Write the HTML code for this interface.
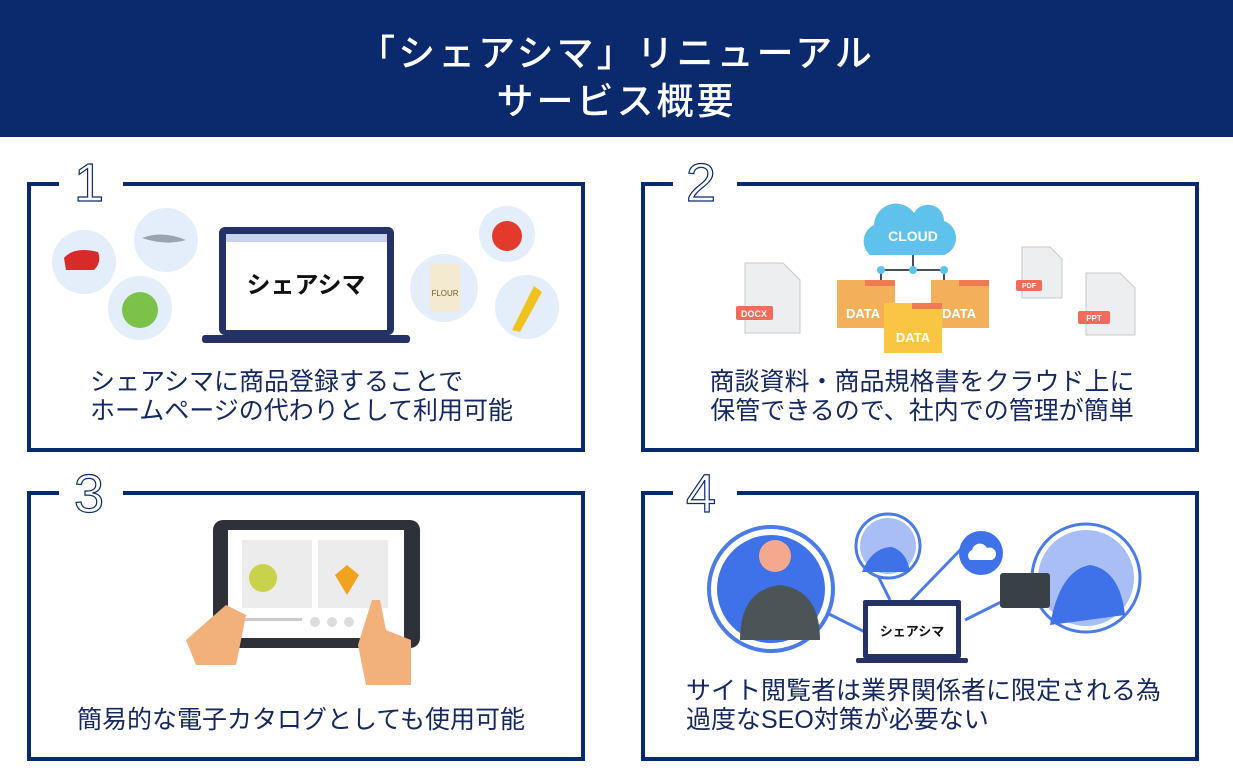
<!DOCTYPE html>
<html><head><meta charset="utf-8"><style>
*{margin:0;padding:0;box-sizing:border-box}
body{width:1233px;height:784px;background:#fff;position:relative;overflow:hidden;font-family:"Liberation Sans","Noto Sans CJK JP",sans-serif}
.hdr{position:absolute;left:0;top:0;width:1233px;height:137px;background:#0b2a6e;color:#fff;text-align:center;font-size:37px;line-height:48px;padding-top:30px;font-weight:500;letter-spacing:3px}
.box{position:absolute;border:4px solid #062a6e;width:558px;height:270px}
.gap{position:absolute;top:-6px;height:8px;background:#fff}
.num{position:absolute;font-family:"Liberation Sans",sans-serif;font-size:54px;color:#fff;-webkit-text-stroke:1.2px #0b2a6e;line-height:56px}
.t{position:absolute;color:#14275f;font-size:25px;line-height:29px;white-space:nowrap}
svg{position:absolute;left:0;top:0}
</style></head><body>
<div class="hdr">「シェアシマ」リニューアル<br>サービス概要</div>

<div class="box" style="left:27px;top:182px"><div class="gap" style="left:28px;width:64px"></div></div>
<div class="num" style="left:74px;top:155px">1</div>
<div class="box" style="left:641px;top:182px"><div class="gap" style="left:28px;width:64px"></div></div>
<div class="num" style="left:686px;top:155px">2</div>
<div class="box" style="left:27px;top:491px"><div class="gap" style="left:28px;width:64px"></div></div>
<div class="num" style="left:74px;top:466px">3</div>
<div class="box" style="left:641px;top:491px"><div class="gap" style="left:28px;width:64px"></div></div>
<div class="num" style="left:686px;top:466px">4</div>

<svg width="1233" height="784">
<!-- panel1 -->
<circle cx="84" cy="262" r="32" fill="#e3eefa"/><path d="M64 258q10-12 34-6 4 10-4 18h-28z" fill="#d82a2a"/>
<circle cx="166" cy="240" r="32" fill="#e3eefa"/><path d="M142 238q20-8 44 2-20 6-44-2z" fill="#9aa4b0"/>
<circle cx="140" cy="308" r="32" fill="#e3eefa"/><circle cx="140" cy="310" r="18" fill="#7cc24a"/>
<rect x="219" y="227" width="175" height="108" rx="6" fill="#253266"/><rect x="226" y="234" width="161" height="96" fill="#fff"/><rect x="226" y="234" width="161" height="8" fill="#c7d3ea"/>
<rect x="202" y="335" width="208" height="8" rx="3" fill="#253266"/>
<text x="306" y="293" font-size="24" font-weight="bold" text-anchor="middle" fill="#111" font-family="Noto Sans CJK JP">シェアシマ</text>
<circle cx="444" cy="288" r="34" fill="#e3eefa"/><rect x="430" y="264" width="30" height="48" rx="3" fill="#f4ead0"/><text x="445" y="296" font-size="8" text-anchor="middle" fill="#7a5a2a">FLOUR</text>
<circle cx="507" cy="234" r="28" fill="#e3eefa"/><circle cx="507" cy="236" r="15" fill="#e33b2b"/>
<circle cx="527" cy="307" r="32" fill="#e3eefa"/><path d="M512 330l22-44 8 6-22 40z" fill="#f0c21e"/>
<!-- panel2 -->
<path d="M870 255a18 18 0 0 1 4-30 22 22 0 0 1 40-12 16 16 0 0 1 30 8 18 18 0 0 1 0 34z" fill="#5ec2ec"/>
<text x="913" y="241" font-size="14" font-weight="bold" fill="#fff" text-anchor="middle">CLOUD</text>
<path d="M913 255v14M881 270h63M881 270v12M944 270v12" stroke="#46505e" stroke-width="2"/>
<circle cx="881" cy="270" r="4" fill="#5ec2ec"/><circle cx="913" cy="270" r="4" fill="#5ec2ec"/><circle cx="944" cy="270" r="4" fill="#5ec2ec"/>
<rect x="837" y="280" width="58" height="48" fill="#f3b05a"/><rect x="865" y="280" width="30" height="6" fill="#ef7b52"/>
<rect x="931" y="280" width="58" height="48" fill="#f3b05a"/><rect x="959" y="280" width="30" height="6" fill="#ef7b52"/>
<text x="846" y="318" font-size="13" font-weight="bold" fill="#fff">DATA</text><text x="942" y="318" font-size="13" font-weight="bold" fill="#fff">DATA</text>
<rect x="884" y="303" width="58" height="50" fill="#fbc544"/><rect x="912" y="303" width="30" height="6" fill="#ef7b52"/>
<text x="913" y="342" font-size="13" font-weight="bold" fill="#fff" text-anchor="middle">DATA</text>
<path d="M745 263h38l17 17v53h-55z" fill="#eceef0" stroke="#c5c9ce"/><rect x="736" y="306" width="37" height="14" rx="2" fill="#f26b5b"/><text x="754" y="317" font-size="9" font-weight="bold" fill="#fff" text-anchor="middle">DOCX</text>
<path d="M1022 247h28l12 12v39h-40z" fill="#eceef0" stroke="#c5c9ce"/><rect x="1016" y="280" width="26" height="11" rx="2" fill="#f26b5b"/><text x="1029" y="288" font-size="7" font-weight="bold" fill="#fff" text-anchor="middle">PDF</text>
<path d="M1086 273h34l15 15v47h-49z" fill="#eceef0" stroke="#c5c9ce"/><rect x="1078" y="311" width="32" height="13" rx="2" fill="#f26b5b"/><text x="1094" y="321" font-size="8" font-weight="bold" fill="#fff" text-anchor="middle">PPT</text>
<!-- panel3 -->
<rect x="213" y="520" width="207" height="128" rx="10" fill="#2e3138"/><rect x="228" y="530" width="176" height="108" fill="#fff"/>
<rect x="242" y="540" width="70" height="68" fill="#ececec"/><rect x="318" y="540" width="70" height="68" fill="#ececec"/>
<circle cx="263" cy="578" r="14" fill="#c8d24a"/><path d="M335 575l12-10 12 10-12 20z" fill="#f2a21c"/>
<rect x="242" y="618" width="60" height="3" fill="#ccc"/><circle cx="315" cy="622" r="5" fill="#ddd"/><circle cx="332" cy="622" r="5" fill="#ddd"/><circle cx="349" cy="622" r="5" fill="#ddd"/>
<path d="M186 640l40-35 20 10-10 50h-40z" fill="#f2b07a"/><path d="M372 600l8 0 6 30 25 10v45h-45l-8-40z" fill="#f2b07a"/>
<!-- panel4 -->
<path d="M815 607l80 40M905 607l60-62M965 620l80-40M860 540l30 60" stroke="#4a7be6" stroke-width="3"/>
<circle cx="771" cy="589" r="62" fill="#fff" stroke="#4a7be6" stroke-width="4"/><circle cx="771" cy="589" r="54" fill="#3f72e8"/>
<path d="M740 640q0-50 40-55 40 5 40 55z" fill="#4b5457"/><circle cx="775" cy="556" r="16" fill="#f4a98f"/>
<circle cx="888" cy="546" r="32" fill="#fff" stroke="#4a7be6" stroke-width="3"/><circle cx="888" cy="546" r="28" fill="#a9bef5"/><path d="M862 572q10-25 30-25 15 5 18 25z" fill="#3f72e8"/>
<circle cx="981" cy="553" r="22" fill="#3f72e8"/><path d="M970 560a6 6 0 0 1 2-10 8 8 0 0 1 15-2 6 6 0 0 1 5 12z" fill="#fff"/>
<circle cx="1086" cy="578" r="54" fill="#fff" stroke="#4a7be6" stroke-width="3"/><circle cx="1086" cy="578" r="48" fill="#a9bef5"/><path d="M1050 625q10-55 40-60 30 5 35 50z" fill="#3f72e8"/>
<rect x="1000" y="573" width="50" height="35" rx="3" fill="#3a4146"/>
<rect x="863" y="600" width="98" height="58" rx="2" fill="#253266"/><rect x="868" y="606" width="88" height="48" fill="#fff"/><rect x="856" y="658" width="112" height="5" rx="2" fill="#253266"/>
<text x="912" y="636" font-size="13" font-weight="bold" text-anchor="middle" fill="#111" font-family="Noto Sans CJK JP">シェアシマ</text>
</svg>

<div class="t" style="left:90px;top:368px">シェアシマに商品登録することで<br>ホームページの代わりとして利用可能</div>
<div class="t" style="left:642px;width:560px;text-align:center;top:368px">商談資料・商品規格書をクラウド上に<br>保管できるので、社内での管理が簡単</div>
<div class="t" style="left:77px;top:706px">簡易的な電子カタログとしても使用可能</div>
<div class="t" style="left:686px;top:677px">サイト閲覧者は業界関係者に限定される為<br>過度なSEO対策が必要ない</div>
</body></html>
